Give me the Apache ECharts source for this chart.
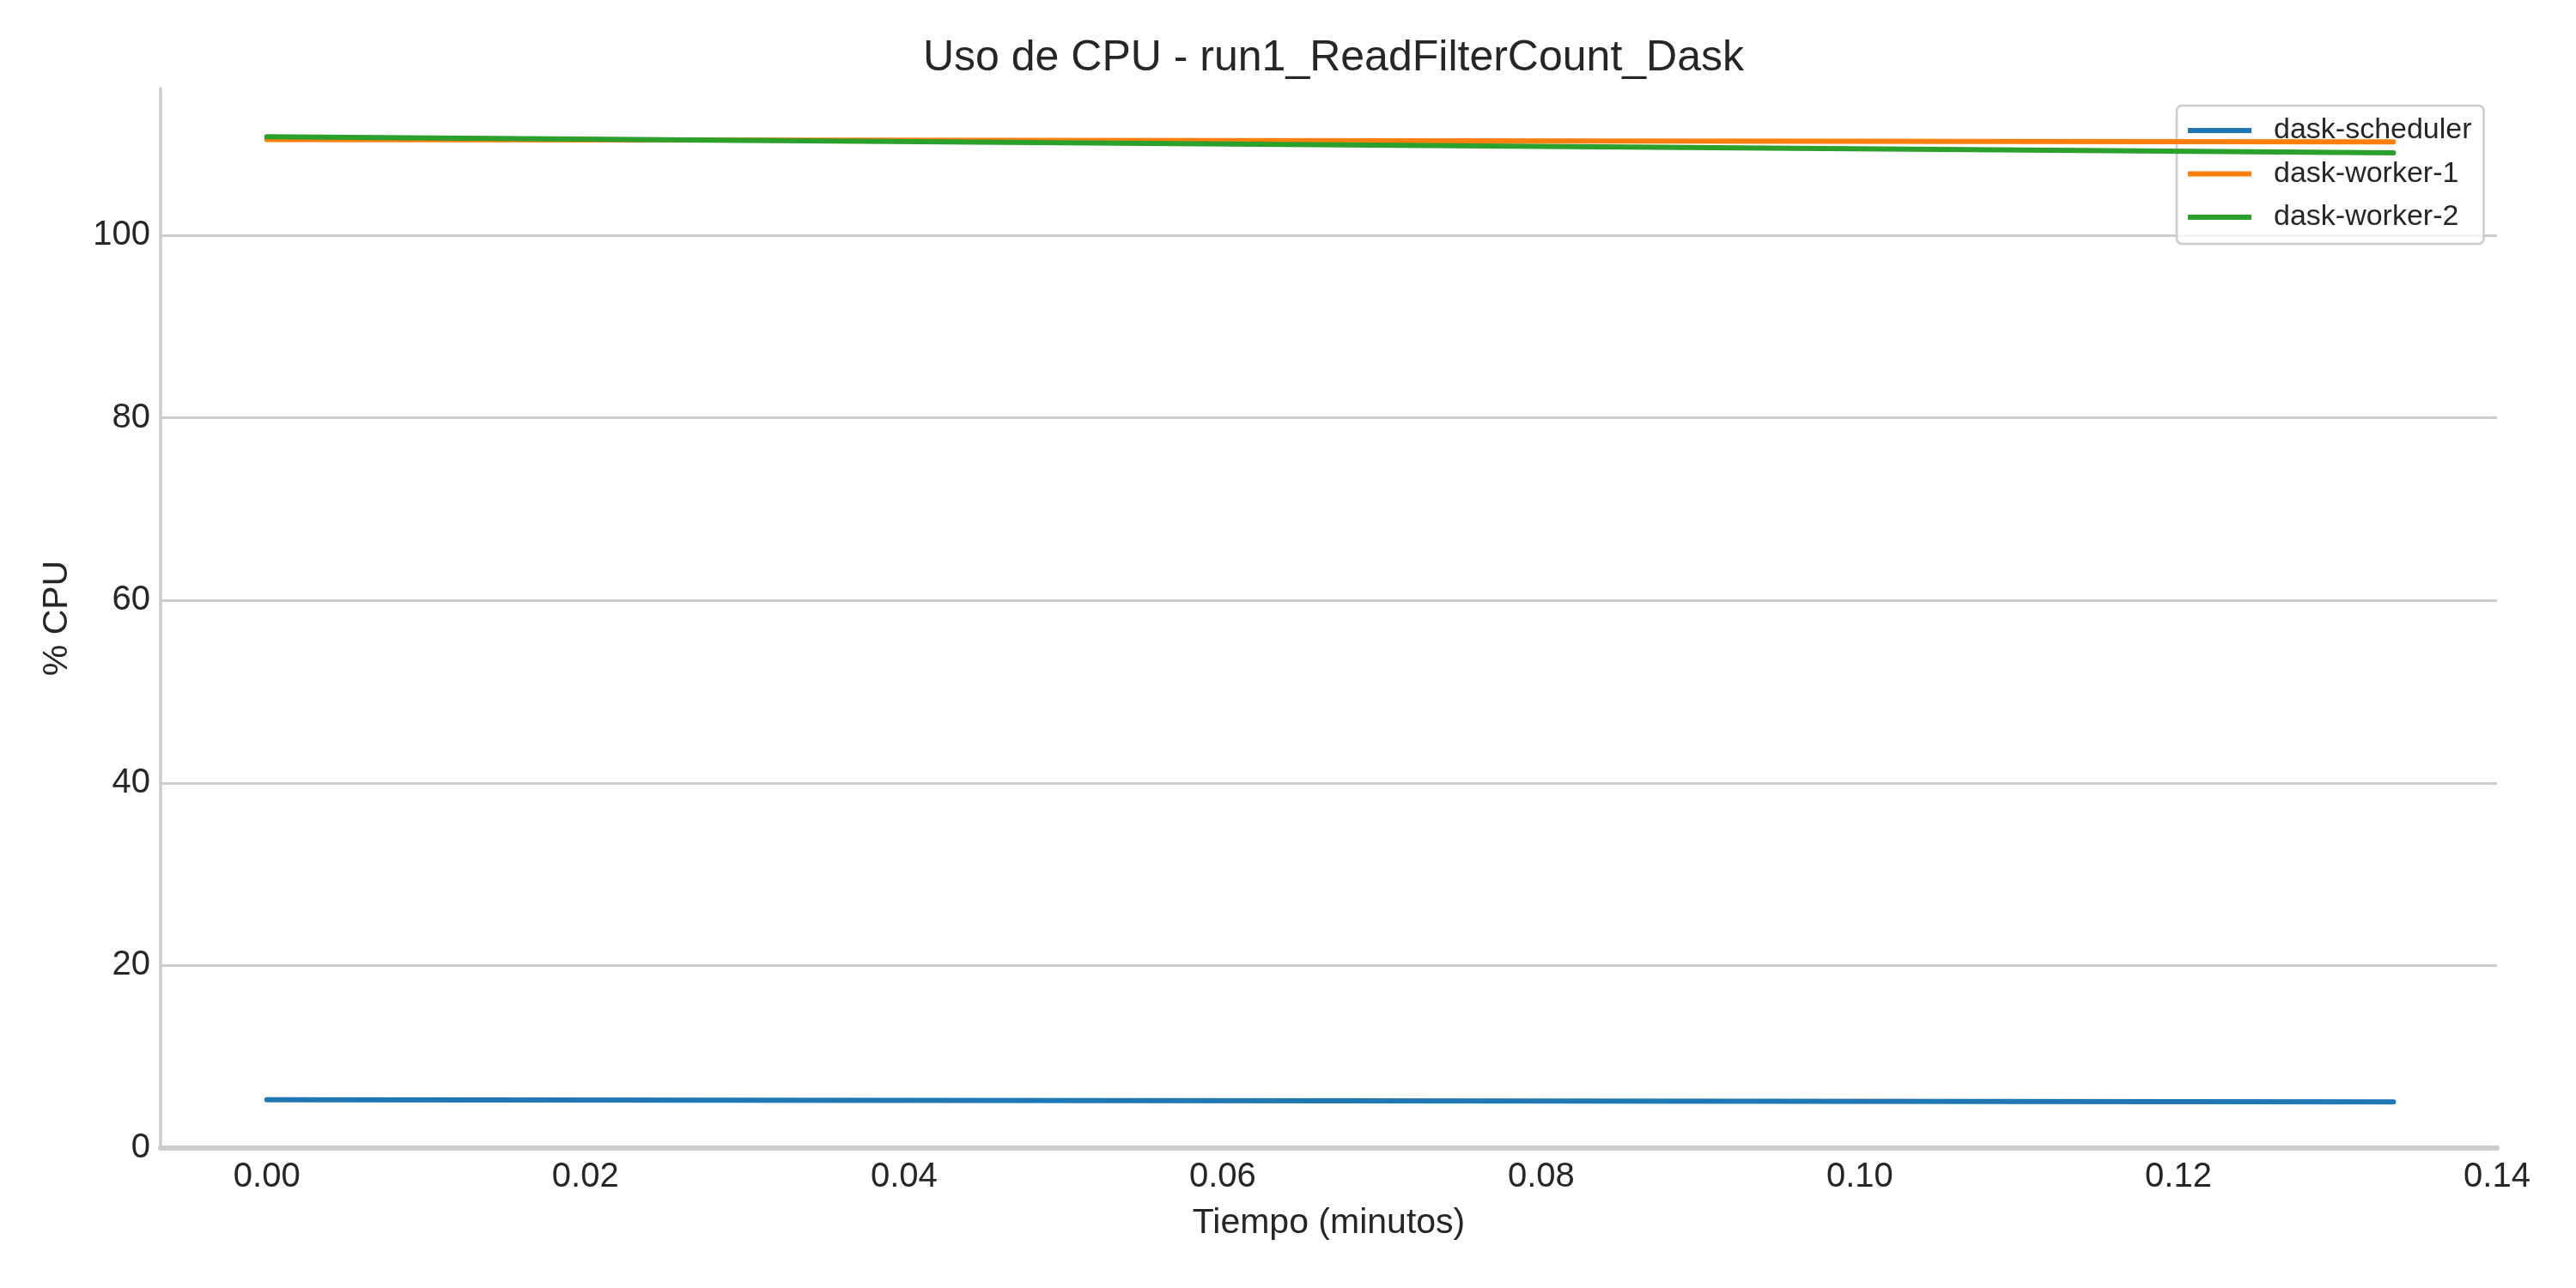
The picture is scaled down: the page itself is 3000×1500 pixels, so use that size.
<!DOCTYPE html>
<html>
<head>
<meta charset="utf-8">
<script src="https://cdn.jsdelivr.net/npm/echarts@6/dist/echarts.min.js"></script>
<style>html,body{margin:0;padding:0;background:#fff;}#c{width:3000px;height:1500px;}</style>
</head>
<body>
<div id="c"></div>
<script>
const timeMinutes = [0, 0.1335];
const seriesNames = ['dask-scheduler', 'dask-worker-1', 'dask-worker-2'];
const schedulerCpu = [5.3, 5.05];
const worker1Cpu = [110.5, 110.25];
const worker2Cpu = [110.8, 109.05];
const xTicks = [0, 0.02, 0.04, 0.06, 0.08, 0.10, 0.12, 0.14];
const yTicks = [0, 20, 40, 60, 80, 100];
const colors = ['#1f77b4', '#ff7f0e', '#2ca02c'];

const allValues = [schedulerCpu, worker1Cpu, worker2Cpu];
const FONT = '"Liberation Sans", Arial, sans-serif';
const TXT = '#262626';

const chart = echarts.init(document.getElementById('c'), null, {renderer: 'canvas'});
chart.setOption({
  animation: false,
  backgroundColor: '#ffffff',
  color: colors,
  title: {
    text: 'Uso de CPU - run1_ReadFilterCount_Dask',
    left: 1548, textAlign: 'center', top: 38,
    textStyle: {fontFamily: FONT, fontSize: 50, fontWeight: 'normal', color: TXT}
  },
  grid: {left: 187, right: 92, top: 103, bottom: 163, containLabel: false},
  legend: {
    orient: 'vertical', left: 2535, top: 123,
    icon: 'rect', itemWidth: 74, itemHeight: 6, itemGap: 16.5,
    padding: [12, 14, 14, 13],
    backgroundColor: 'rgba(255,255,255,0.8)',
    borderColor: '#cccccc', borderWidth: 2.5, borderRadius: 6,
    textStyle: {fontFamily: FONT, fontSize: 34, color: TXT, lineHeight: 34, padding: [0, 0, 0, 21]},
    data: seriesNames
  },
  xAxis: {
    type: 'value', min: -0.00667, max: 0.14,
    name: 'Tiempo (minutos)', nameLocation: 'middle', nameGap: 67,
    nameTextStyle: {fontFamily: FONT, fontSize: 41, color: TXT},
    axisLine: {show: true, onZero: false, lineStyle: {color: '#cccccc', width: 6}},
    axisTick: {show: false},
    splitLine: {show: false},
    axisLabel: {
      customValues: xTicks, margin: 14,
      fontFamily: FONT, fontSize: 40, color: TXT,
      formatter: v => v.toFixed(2)
    }
  },
  yAxis: {
    type: 'value', min: 0, max: 116.1, interval: 20,
    name: '% CPU', nameLocation: 'middle', nameGap: 100,
    nameTextStyle: {fontFamily: FONT, fontSize: 41, color: TXT},
    axisLine: {show: true, onZero: false, lineStyle: {color: '#cccccc', width: 3.5}},
    axisTick: {show: false},
    splitLine: {show: true, showMaxLine: false, lineStyle: {color: '#cccccc', width: 3}},
    axisLabel: {
      customValues: yTicks, margin: 12,
      fontFamily: FONT, fontSize: 40, color: TXT,
      formatter: v => String(Math.round(v))
    }
  },
  series: seriesNames.map((name, i) => ({
    name: name, type: 'line', symbol: 'none',
    data: timeMinutes.map((t, j) => [t, allValues[i][j]]),
    lineStyle: {color: colors[i], width: 6, cap: 'round', join: 'round'},
    itemStyle: {color: colors[i]},
    z: 3 + i
  }))
});
</script>
</body>
</html>
